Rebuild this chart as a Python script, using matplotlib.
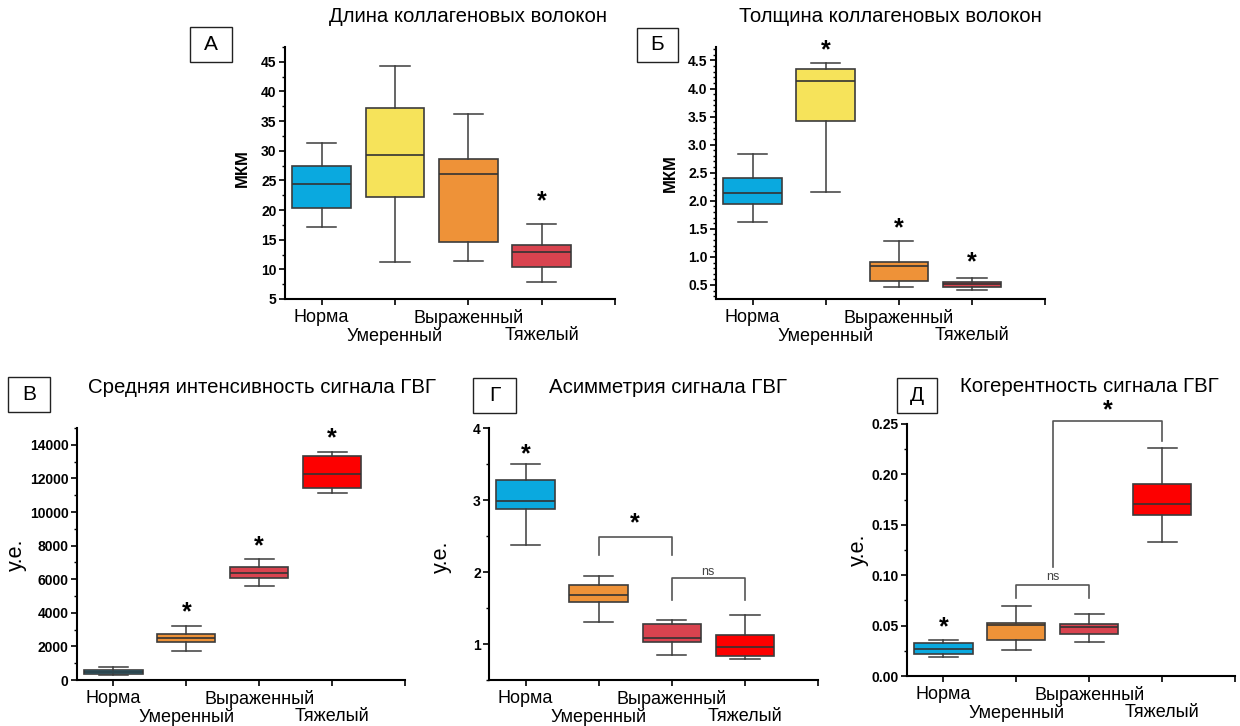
import matplotlib
matplotlib.use('Agg')
import matplotlib.pyplot as plt
from matplotlib.patches import Rectangle
from matplotlib.ticker import AutoMinorLocator

plt.rcParams['font.family'] = ['Liberation Sans', 'DejaVu Sans']

groups = ['Норма', 'Умеренный', 'Выраженный', 'Тяжелый']
row1_labels = ['Норма', '', 'Выраженный', '', '']

# А - длина коллагеновых волокон, мкм
a_low = [17.2, 11.3, 11.4, 7.8]
a_q1 = [20.35, 22.2, 14.6, 10.4]
a_med = [24.4, 29.3, 26.05, 12.85]
a_q3 = [27.35, 37.15, 28.6, 14.05]
a_high = [31.3, 44.3, 36.2, 17.6]
a_stars = {4: 21.5}

# Б - толщина коллагеновых волокон, мкм
b_low = [1.63, 2.16, 0.47, 0.41]
b_q1 = [1.94, 3.42, 0.57, 0.46]
b_med = [2.13, 4.14, 0.83, 0.51]
b_q3 = [2.41, 4.34, 0.91, 0.56]
b_high = [2.83, 4.46, 1.29, 0.63]
b_stars = {2: 4.68, 3: 1.51, 4: 0.90}

# В - средняя интенсивность сигнала ГВГ, у.е.
v_low = [300, 1730, 5580, 11110]
v_q1 = [330, 2290, 6090, 11450]
v_med = [460, 2510, 6390, 12290]
v_q3 = [600, 2710, 6730, 13340]
v_high = [760, 3210, 7230, 13580]
v_stars = {2: 4000, 3: 7930, 4: 14360}

# Г - асимметрия сигнала ГВГ, у.е.
g_low = [2.38, 1.31, 0.85, 0.79]
g_q1 = [2.87, 1.59, 1.03, 0.84]
g_med = [2.99, 1.68, 1.09, 0.96]
g_q3 = [3.28, 1.82, 1.28, 1.13]
g_high = [3.50, 1.94, 1.33, 1.40]
g_stars = {1: 3.64}

# Д - когерентность сигнала ГВГ, у.е.
d_low = [0.0192, 0.0262, 0.0335, 0.1326]
d_q1 = [0.0219, 0.0355, 0.0418, 0.160]
d_med = [0.0272, 0.051, 0.0487, 0.1704]
d_q3 = [0.0332, 0.0527, 0.052, 0.1906]
d_high = [0.0361, 0.0693, 0.0613, 0.226]
d_stars = {1: 0.0487}

blue = '#0aa9df'
yellow = '#f6e35a'
orange = '#ee9238'
pink = '#d9434f'
red = '#fd0000'

W, H = 1240, 726
fig = plt.figure(figsize=(W / 100, H / 100), dpi=100)


def rect(left, right, top, bottom):
    return [left / W, 1 - bottom / H, (right - left) / W, (bottom - top) / H]


def panel(box, low, q1, med, q3, high, colors, ylim, yticks, nminor, ylabel,
          ylabel_bold, label_xy, stars, title, title_xy, letter, letter_box):
    ax = fig.add_axes(rect(*box))
    stats = []
    for i in range(4):
        stats.append({'whislo': low[i], 'q1': q1[i], 'med': med[i],
                      'q3': q3[i], 'whishi': high[i], 'fliers': []})
    bp = ax.bxp(stats, positions=[1, 2, 3, 4], widths=0.8, capwidths=0.4,
                patch_artist=True, showfliers=False,
                boxprops=dict(edgecolor='#3c3c3c', linewidth=1.2),
                medianprops=dict(color='#333333', linewidth=1.2),
                whiskerprops=dict(color='#3c3c3c', linewidth=1.1),
                capprops=dict(color='#3c3c3c', linewidth=1.1))
    for patch, c in zip(bp['boxes'], colors):
        patch.set_facecolor(c)

    for pos, y in stars.items():
        ax.text(pos, y, '*', ha='center', va='center', fontsize=18,
                fontweight='bold')

    ax.set_xlim(0.5, 5.0)
    ax.set_ylim(*ylim)
    ax.set_xticks([1, 2, 3, 4, 5])
    ax.set_xticklabels(row1_labels, fontsize=13)
    # второй ряд подписей категорий
    for pos in (2, 4):
        ax.annotate(groups[pos - 1], xy=(pos, 0),
                    xycoords=('data', 'axes fraction'), xytext=(0, -20.5),
                    textcoords='offset points', ha='center', va='top',
                    fontsize=13)
    ax.set_yticks(yticks)
    ax.yaxis.set_minor_locator(AutoMinorLocator(nminor))
    for lab in ax.get_yticklabels():
        lab.set_fontweight('bold')
    ax.tick_params(axis='y', labelsize=10, length=4, width=1.2, pad=2)
    ax.tick_params(axis='y', which='minor', length=2.5, width=1.0)
    ax.tick_params(axis='x', length=4, width=1.2, pad=3)
    for s in ['top', 'right']:
        ax.spines[s].set_visible(False)
    for s in ['left', 'bottom']:
        ax.spines[s].set_linewidth(1.5)

    if ylabel_bold:
        ax.set_ylabel(ylabel, fontsize=12, fontweight='bold')
    else:
        ax.set_ylabel(ylabel, fontsize=15.5)
    ax.yaxis.set_label_coords(*label_xy)

    fig.text(title_xy[0] / W, 1 - title_xy[1] / H, title, ha='center',
             va='center', fontsize=14.7)
    x0, x1, y0, y1 = letter_box
    fig.patches.append(Rectangle((x0 / W, 1 - y1 / H), (x1 - x0) / W,
                                 (y1 - y0) / H, transform=fig.transFigure,
                                 fill=False, edgecolor='#222222', lw=1.0))
    fig.text((x0 + x1) / 2 / W, 1 - (y0 + y1) / 2 / H, letter, ha='center',
             va='center', fontsize=15)
    return ax


def bracket(ax, x1, x2, y, y1_end, y2_end):
    ax.plot([x1, x1, x2, x2], [y1_end, y, y, y2_end], color='#555555',
            lw=1.2, clip_on=False)


ax_a = panel((285, 615, 47, 299), a_low, a_q1, a_med, a_q3, a_high,
             [blue, yellow, orange, pink], (5, 47.5),
             [5, 10, 15, 20, 25, 30, 35, 40, 45], 2, 'МКМ', True,
             (-0.106, 0.52), a_stars, 'Длина коллагеновых волокон', (468, 17),
             'А', (190, 232, 27, 62))

ax_b = panel((716, 1045, 47, 299), b_low, b_q1, b_med, b_q3, b_high,
             [blue, yellow, orange, pink], (0.25, 4.74),
             [0.5, 1.0, 1.5, 2.0, 2.5, 3.0, 3.5, 4.0, 4.5], 5, 'МКМ', True,
             (-0.115, 0.5), b_stars, 'Толщина коллагеновых волокон',
             (890, 17), 'Б', (637, 678, 28, 62))

ax_v = panel((77, 405, 428, 680), v_low, v_q1, v_med, v_q3, v_high,
             [blue, orange, pink, red], (0, 15000),
             [0, 2000, 4000, 6000, 8000, 10000, 12000, 14000], 2, 'у.е.',
             False, (-0.152, 0.496), v_stars,
             'Средняя интенсивность сигнала ГВГ', (262, 388), 'В',
             (8, 50, 377, 412))

ax_g = panel((489, 818, 428, 680), g_low, g_q1, g_med, g_q3, g_high,
             [blue, orange, pink, red], (0.5, 4.0), [1, 2, 3, 4], 2, 'у.е.',
             False, (-0.112, 0.49), g_stars, 'Асимметрия сигнала ГВГ',
             (668, 388), 'Г', (473, 516, 378, 413))

ax_d = panel((907, 1235, 424, 676), d_low, d_q1, d_med, d_q3, d_high,
             [blue, orange, pink, red], (0, 0.25),
             [0.0, 0.05, 0.10, 0.15, 0.20, 0.25], 2, 'у.е.', False,
             (-0.116, 0.5), d_stars, 'Когерентность сигнала ГВГ', (1089, 387),
             'Д', (897, 937, 378, 413))
ax_d.set_yticklabels(['0.00', '0.05', '0.10', '0.15', '0.20', '0.25'],
                     fontweight='bold')

# скобки сравнения
bracket(ax_g, 2, 3, 2.49, 2.23, 2.23)
ax_g.text(2.5, 2.67, '*', ha='center', va='center', fontsize=18,
          fontweight='bold')
bracket(ax_g, 3, 4, 1.91, 1.61, 1.61)
ax_g.text(3.5, 2.0, 'ns', ha='center', va='center', fontsize=9,
          color='#444444')

bracket(ax_d, 2, 3, 0.0899, 0.077, 0.077)
ax_d.text(2.5, 0.098, 'ns', ha='center', va='center', fontsize=9,
          color='#444444')
bracket(ax_d, 2.5, 4, 0.2526, 0.1084, 0.2327)
ax_d.text(3.25, 0.264, '*', ha='center', va='center', fontsize=18,
          fontweight='bold', clip_on=False)

fig.savefig('out.png', dpi=100)
